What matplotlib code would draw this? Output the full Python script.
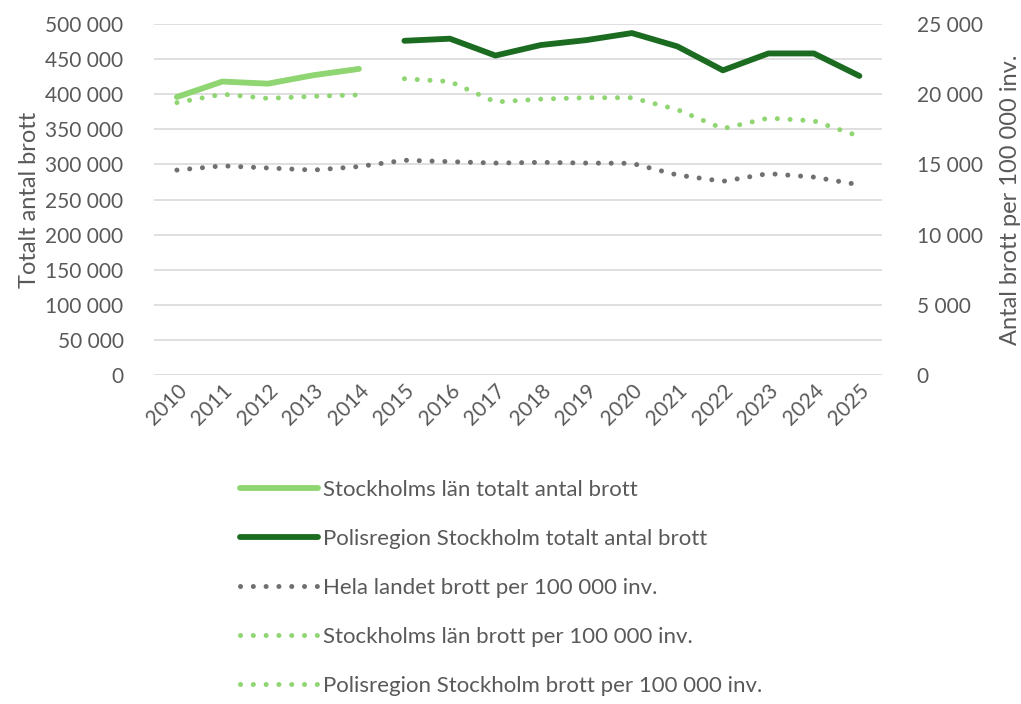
import numpy as np
import matplotlib.pyplot as plt
from matplotlib.ticker import FuncFormatter

years = [str(y) for y in range(2010, 2026)]

# totals (left axis)
lan_total = [396000, 418000, 415000, 427000, 436000] + [np.nan] * 11
polis_total = [np.nan] * 5 + [476000, 479000, 455000, 470000, 477000, 487000,
                              468000, 434000, 458000, 458000, 426000]

# per 100 000 inv. (right axis)
hela_per = [14600, 14900, 14750, 14600, 14850, 15300, 15200, 15100,
            15150, 15100, 15080, 14250, 13800, 14350, 14100, 13550]
lan_per = [19400, 20000, 19700, 19850, 19950] + [np.nan] * 11
polis_per = [np.nan] * 5 + [21100, 20900, 19450, 19650, 19750, 19750,
                            18900, 17550, 18300, 18100, 17000]

light = "#8fd672"
dark = "#1b6b20"
grey = "#707070"
txt = "#595959"

plt.rcParams['font.family'] = ['Lato', 'DejaVu Sans']

fig = plt.figure(figsize=(10.21, 7.04), dpi=100)
ax = fig.add_axes([0.151, 0.467, 0.713, 0.499])
ax2 = ax.twinx()

x = np.arange(len(years))

ax.plot(x, lan_total, color=light, lw=4.2, solid_capstyle='round',
        label="Stockholms län totalt antal brott")
ax.plot(x, polis_total, color=dark, lw=4.2, solid_capstyle='round',
        label="Polisregion Stockholm totalt antal brott")

dot = (0, (0.01, 2.55))
ax2.plot(x, hela_per, color=grey, lw=3.6, linestyle=dot, dash_capstyle='round',
         label="Hela landet brott per 100 000 inv.")
ax2.plot(x, lan_per, color=light, lw=3.6, linestyle=dot, dash_capstyle='round',
         label="Stockholms län brott per 100 000 inv.")
ax2.plot(x, polis_per, color=light, lw=3.6, linestyle=dot, dash_capstyle='round',
         label="Polisregion Stockholm brott per 100 000 inv.")

fmt = FuncFormatter(lambda v, p: f"{int(v):,}".replace(",", " "))

ax.set_xlim(-0.5, len(years) - 0.5)
ax.set_ylim(0, 500000)
ax.set_yticks(np.arange(0, 500001, 50000))
ax.yaxis.set_major_formatter(fmt)
ax2.set_ylim(0, 25000)
ax2.set_yticks(np.arange(0, 25001, 5000))
ax2.yaxis.set_major_formatter(fmt)

ax.set_xticks(x)
ax.set_xticklabels(years, rotation=45, ha='right', rotation_mode='anchor')

ax.grid(axis='y', color='#d9d9d9', lw=1.2)
ax.set_axisbelow(True)
for a in (ax, ax2):
    for s in a.spines.values():
        s.set_visible(False)
    a.tick_params(length=0, colors=txt, labelsize=15)
ax.tick_params(axis='y', pad=22)
ax2.tick_params(axis='y', pad=25)
ax.tick_params(axis='x', pad=4)

ax.set_ylabel("Totalt antal brott", fontsize=17, color=txt, labelpad=4)
ax2.set_ylabel("Antal brott per 100 000 inv.", fontsize=17, color=txt, labelpad=12)

h1, l1 = ax.get_legend_handles_labels()
h2, l2 = ax2.get_legend_handles_labels()
fig.legend(h1 + h2, l1 + l2, loc='upper left', bbox_to_anchor=(0.235, 0.318),
           frameon=False, fontsize=16, labelcolor=txt, handlelength=3.5,
           handletextpad=0.25, labelspacing=1.3, borderaxespad=0, borderpad=0)

fig.savefig("out.png", dpi=100)
